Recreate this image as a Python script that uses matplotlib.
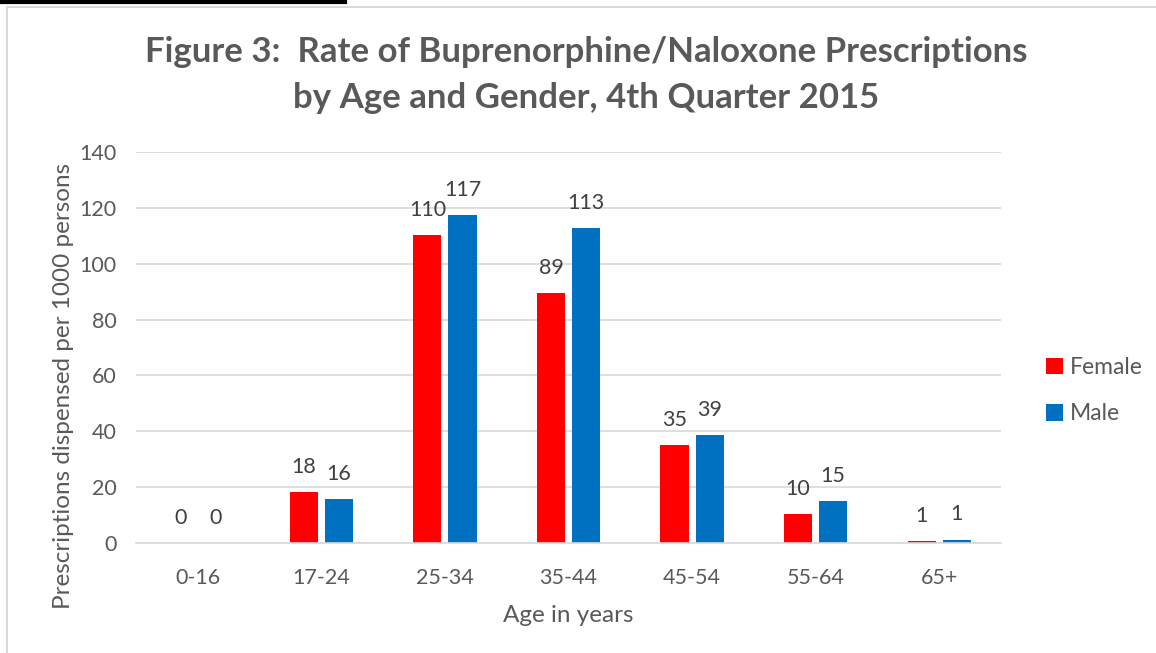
import matplotlib.pyplot as plt
import numpy as np
from matplotlib.lines import Line2D

ages = ['0-16', '17-24', '25-34', '35-44', '45-54', '55-64', '65+']
female = [0.0, 18.3, 110.2, 89.4, 35.0, 10.4, 0.6]
male = [0.0, 15.7, 117.3, 112.7, 38.6, 14.9, 1.2]

red = '#ff0000'
blue = '#0070c0'
grey = '#595959'

plt.rcParams['font.family'] = ['Lato', 'DejaVu Sans']

fig = plt.figure(figsize=(11.56, 6.53), dpi=100)
ax = fig.add_axes([136 / 1156, 1 - 543 / 653, 865 / 1156, 391 / 653])

x = np.arange(len(ages))
w = 0.227
off = 0.142
bf = ax.bar(x - off, female, w, color=red, label='Female')
bm = ax.bar(x + off, male, w, color=blue, label='Male')

for xi, v in zip(x, female):
    ax.text(xi - off, v + 5.5, str(int(round(v))), ha='center', va='bottom', fontsize=15.5, color='#404040')
for xi, v in zip(x, male):
    ax.text(xi + off, v + 5.5, str(int(round(v))), ha='center', va='bottom', fontsize=15.5, color='#404040')

ax.set_ylim(0, 140)
ax.set_xlim(-0.5, len(ages) - 0.5)
ax.set_yticks(range(0, 141, 20))
ax.set_xticks(x)
ax.set_xticklabels(ages)
ax.tick_params(axis='both', length=0, labelsize=15.5, labelcolor=grey)
ax.tick_params(axis='y', pad=14)
ax.tick_params(axis='x', pad=18)
ax.grid(axis='y', color='#d9d9d9', linewidth=1.2)
ax.set_axisbelow(True)
for s in ['top', 'right', 'left']:
    ax.spines[s].set_visible(False)
ax.spines['bottom'].set_color('#d9d9d9')
ax.spines['bottom'].set_linewidth(1.2)

ax.set_xlabel('Age in years', fontsize=17.5, color=grey, labelpad=12)
ax.set_ylabel('Prescriptions dispensed per 1000 persons', fontsize=17.5, color=grey, labelpad=16)
ax.yaxis.set_label_coords(-62 / 865, 0.5 - 38 / 391)

fig.text(586 / 1156, 1 - 52 / 653, 'Figure 3:  Rate of Buprenorphine/Naloxone Prescriptions',
         ha='center', va='center', fontsize=25, fontweight='bold', color=grey)
fig.text(586 / 1156, 1 - 98 / 653, 'by Age and Gender, 4th Quarter 2015',
         ha='center', va='center', fontsize=25, fontweight='bold', color=grey)

leg = ax.legend(handles=[bf, bm], loc='center left', bbox_to_anchor=(1.028, 0.39),
                frameon=False, fontsize=16.5, handlelength=0.75, handleheight=0.75,
                handletextpad=0.3, labelspacing=1.1)
for t in leg.get_texts():
    t.set_color(grey)

# frame lines and clipped underline at the top of the page
fig.add_artist(Line2D([7 / 1156, 7 / 1156], [0, 1 - 7 / 653], color='#d9d9d9', lw=1.5))
fig.add_artist(Line2D([7 / 1156, 1], [1 - 7 / 653, 1 - 7 / 653], color='#d9d9d9', lw=1.5))
fig.add_artist(Line2D([0, 345 / 1156], [1 - 2 / 653, 1 - 2 / 653], color='black', lw=3))

fig.savefig('out.png', dpi=100)
